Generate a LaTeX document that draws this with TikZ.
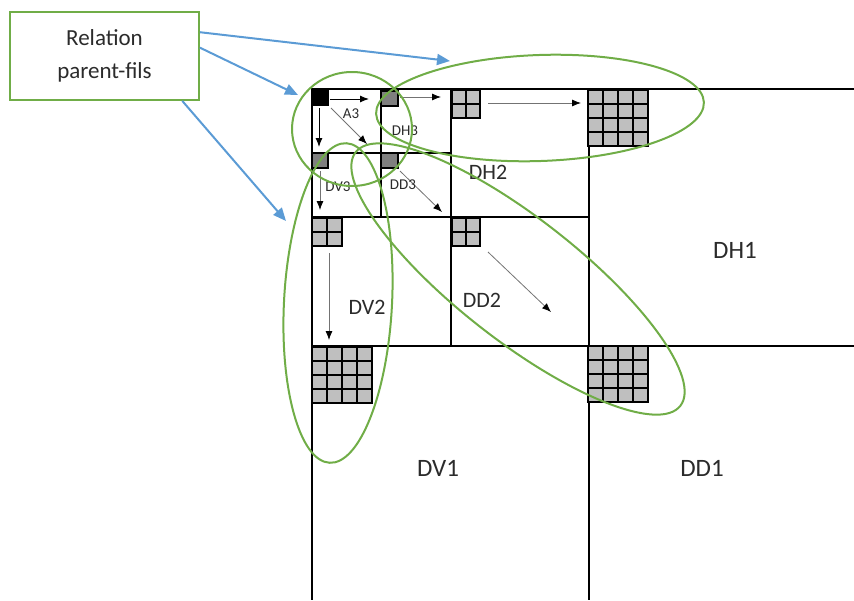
\documentclass[tikz,border=0pt]{standalone}
\usepackage{fontspec}
\setmainfont{Carlito}
\usetikzlibrary{arrows.meta}
\definecolor{ogreen}{HTML}{70AD47}
\definecolor{oblue}{HTML}{5B9BD5}
\definecolor{cellgray}{HTML}{BFBFBF}
\definecolor{darkcell}{HTML}{7F7F7F}
\definecolor{txt}{HTML}{2B2B2B}
\tikzset{
  quadline/.style={line width=1.6pt, draw=black},
  lvlthree/.style={line width=2.4pt, draw=black},
  loopring/.style={draw=ogreen, line width=2pt},
  relarrow/.style={draw=oblue, line width=2pt, -{Triangle[length=13pt,width=11pt]}},
  scanarrow/.style={line width=0.8pt, draw=black!55, -{Latex[length=9pt,width=7pt,color=black]}},
  scanthick/.style={line width=1pt, draw=black, -{Latex[length=9pt,width=7pt,color=black]}},
  biglab/.style={text=txt, inner sep=0pt, font=\fontsize{25}{30}\selectfont},
  midlab/.style={text=txt, inner sep=0pt, font=\fontsize{22}{26}\selectfont},
  smalllab/.style={text=txt, inner sep=0pt, font=\fontsize{15}{18}\selectfont},
  relbox/.style={draw=ogreen, line width=1.8pt, minimum width=189pt, minimum height=88pt,
     align=center, text=txt, font=\fontsize{23}{33}\selectfont, inner sep=0pt},
  cellsq/.style={fill=cellgray, draw=black, line width=1.3pt},
  darksq/.style={fill=darkcell, draw=black, line width=1.3pt}
}
\newcommand\cellgrid[5]{%
  \foreach \i in {1,...,#3}{\foreach \j in {1,...,#3}{%
    \draw[cellsq] ({#1+(\i-1)*#4},{#2+(\j-1)*#5}) rectangle ++(#4,#5);}}}
\begin{document}
\begin{tikzpicture}[x=1pt,y=-1pt]
\useasboundingbox (0,0) rectangle (854,600);
% quadrant lines
\draw[quadline] (312,89) -- (854,89);
\draw[quadline] (312,89) -- (312,600);
\draw[quadline] (589,89) -- (589,600);
\draw[quadline] (312,346) -- (854,346);
\draw[quadline] (451,89) -- (451,346);
\draw[quadline] (312,217) -- (589,217);
% level three
\draw[lvlthree] (312,89) rectangle (451,217);
\draw[line width=2pt] (381,89) -- (381,217);
\draw[line width=2pt] (312,153) -- (451,153);
% level three squares
\fill[black] (312,89) rectangle (329,106);
\draw[darksq] (381,91) rectangle (398,106);
\draw[darksq] (312,153) rectangle (328,168);
\draw[darksq] (381,153) rectangle (398,168);
% level two grids
\cellgrid{452}{90}{2}{14}{14}
\cellgrid{312}{218}{2}{15}{14}
\cellgrid{452}{218}{2}{14}{14}
% level one grids
\cellgrid{588}{90}{4}{15}{14}
\cellgrid{312}{347}{4}{15}{14}
\cellgrid{588}{346}{4}{15}{14}
% scan arrows level three
\coordinate (a1s) at (330,99);  \coordinate (a1e) at (369,99);
\coordinate (a2s) at (319,108); \coordinate (a2e) at (319,147);
\coordinate (a3s) at (331,108); \coordinate (a3e) at (367,144);
\coordinate (h3s) at (400,97);  \coordinate (h3e) at (441,97);
\coordinate (v3s) at (320,171); \coordinate (v3e) at (320,210);
\coordinate (d3s) at (400,171); \coordinate (d3e) at (442,212);
\draw[scanthick] (a1s) -- (a1e);
\draw[scanthick] (a2s) -- (a2e);
\draw[scanarrow] (a3s) -- (a3e);
\draw[scanarrow] (h3s) -- (h3e);
\draw[scanarrow] (v3s) -- (v3e);
\draw[scanarrow] (d3s) -- (d3e);
% scan arrows level two
\coordinate (h2s) at (488,103); \coordinate (h2e) at (581,103);
\coordinate (v2s) at (329,253); \coordinate (v2e) at (329,340);
\coordinate (d2s) at (488,252); \coordinate (d2e) at (551,312);
\draw[scanarrow] (h2s) -- (h2e);
\draw[scanarrow] (v2s) -- (v2e);
\draw[scanarrow] (d2s) -- (d2e);
% labels
\node[smalllab] (A3) at (351,114) {A3};
\node[smalllab] (DH3) at (405,131) {DH3};
\node[smalllab] (DV3) at (338,187) {DV3};
\node[smalllab] (DD3) at (403,185) {DD3};
\node[midlab] (DH2) at (488,172) {DH2};
\node[midlab] (DV2) at (367,307) {DV2};
\node[midlab] (DD2) at (482,300) {DD2};
\node[biglab] (DH1) at (735,250) {DH1};
\node[biglab] (DV1) at (438,468) {DV1};
\node[biglab] (DD1) at (702,468) {DD1};
% green ellipses
\draw[loopring] (352,129) ellipse [x radius=60, y radius=57];
\draw[loopring, rotate around={2:(540,108)}] (540,108) ellipse [x radius=164, y radius=53];
\draw[loopring, rotate around={-3:(338,303)}] (338,303) ellipse [x radius=54, y radius=160];
\draw[loopring, rotate around={-38:(518,279)}] (518,279) ellipse [x radius=206, y radius=61];
% relation box and arrows
\node[relbox] (rel) at (104.5,56) {Relation\\parent-fils};
\coordinate (t1) at (450,61);
\coordinate (t2) at (298,95);
\coordinate (t3) at (286,221);
\draw[relarrow] (rel.14) -- (t1);
\draw[relarrow] (rel.5) -- (t2);
\draw[relarrow] (rel.-30) -- (t3);
\end{tikzpicture}
\end{document}
